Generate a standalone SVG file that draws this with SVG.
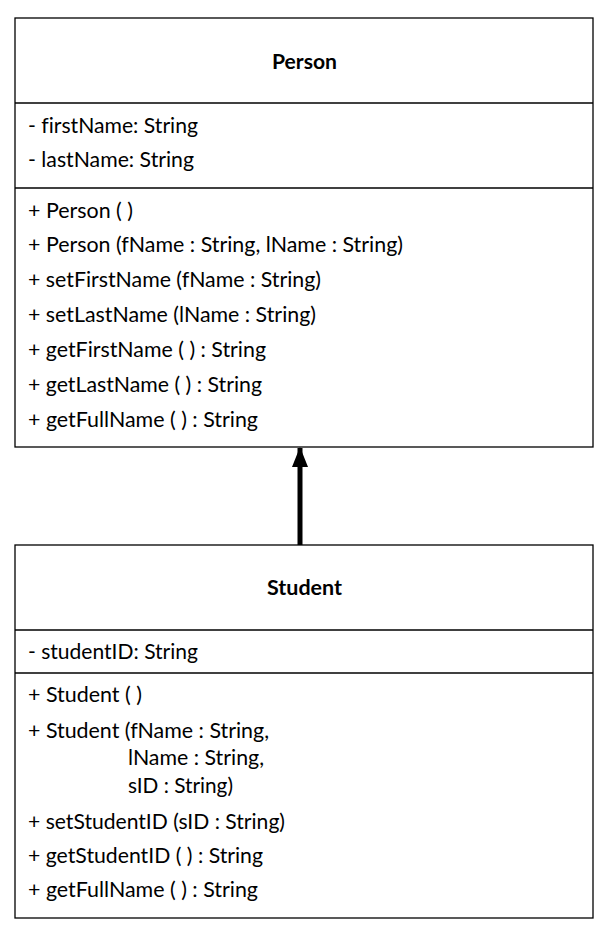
<svg xmlns="http://www.w3.org/2000/svg" width="609" height="937" viewBox="0 0 609 937">
<style>
.box{fill:#fff;stroke:#000;stroke-width:1.3}
.div{stroke:#000;stroke-width:1.3}
text{font-family:Lato,"Open Sans","Liberation Sans",sans-serif;font-size:21px;fill:#000;font-variant-ligatures:none}
.t{font-weight:bold;text-anchor:middle}
</style>
<defs>
<marker id="ah" markerWidth="4" markerHeight="3.2" refX="3.8" refY="1.6" orient="auto" markerUnits="strokeWidth">
<path d="M0,0 L4,1.6 L0,3.2 Z" fill="#000"/>
</marker>
</defs>
<rect width="609" height="937" fill="#fff"/>
<g id="person">
<rect class="box" x="15" y="18" width="578" height="429"/>
<line class="div" x1="15" y1="103" x2="593" y2="103"/>
<line class="div" x1="15" y1="188" x2="593" y2="188"/>
<text class="t" x="304.5" y="69" textLength="65" lengthAdjust="spacingAndGlyphs">Person</text>
<text x="28" y="133" textLength="170" lengthAdjust="spacingAndGlyphs">- firstName: String</text>
<text x="28" y="167" textLength="166" lengthAdjust="spacingAndGlyphs">- lastName: String</text>
<text x="28" y="218" textLength="105" lengthAdjust="spacingAndGlyphs">+ Person ( )</text>
<text x="28" y="252" textLength="375" lengthAdjust="spacingAndGlyphs">+ Person (fName : String, lName : String)</text>
<text x="28" y="287" textLength="293" lengthAdjust="spacingAndGlyphs">+ setFirstName (fName : String)</text>
<text x="28" y="322" textLength="288" lengthAdjust="spacingAndGlyphs">+ setLastName (lName : String)</text>
<text x="28" y="357" textLength="238" lengthAdjust="spacingAndGlyphs">+ getFirstName ( ) : String</text>
<text x="28" y="392" textLength="234" lengthAdjust="spacingAndGlyphs">+ getLastName ( ) : String</text>
<text x="28" y="427" textLength="230" lengthAdjust="spacingAndGlyphs">+ getFullName ( ) : String</text>
</g>
<g id="student">
<rect class="box" x="15" y="545" width="578" height="373"/>
<line class="div" x1="15" y1="630" x2="593" y2="630"/>
<line class="div" x1="15" y1="673" x2="593" y2="673"/>
<text class="t" x="304.5" y="595" textLength="75" lengthAdjust="spacingAndGlyphs">Student</text>
<text x="28" y="659" textLength="170" lengthAdjust="spacingAndGlyphs">- studentID: String</text>
<text x="28" y="702" textLength="114" lengthAdjust="spacingAndGlyphs">+ Student ( )</text>
<text x="28" y="738" textLength="241" lengthAdjust="spacingAndGlyphs">+ Student (fName : String,</text>
<text x="128" y="765" textLength="136" lengthAdjust="spacingAndGlyphs">lName : String,</text>
<text x="128" y="793" textLength="105" lengthAdjust="spacingAndGlyphs">sID : String)</text>
<text x="28" y="829" textLength="257" lengthAdjust="spacingAndGlyphs">+ setStudentID (sID : String)</text>
<text x="28" y="863" textLength="235" lengthAdjust="spacingAndGlyphs">+ getStudentID ( ) : String</text>
<text x="28" y="897" textLength="230" lengthAdjust="spacingAndGlyphs">+ getFullName ( ) : String</text>
</g>
<g id="connectors">
<line x1="300" y1="545" x2="300" y2="448" stroke="#000" stroke-width="5" marker-end="url(#ah)"/>
</g>
</svg>
